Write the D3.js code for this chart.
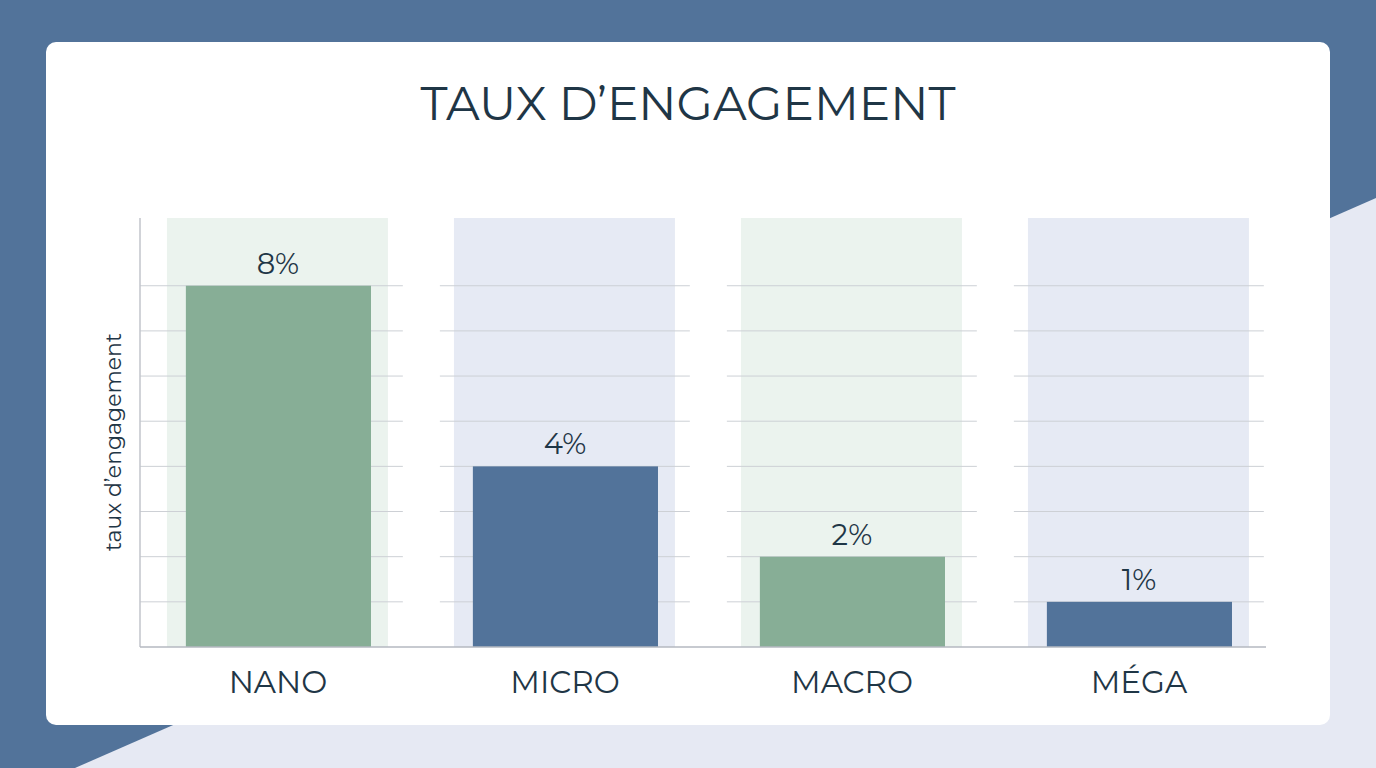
<!DOCTYPE html>
<html><head><meta charset="utf-8">
<script src="https://cdn.jsdelivr.net/npm/d3@7"></script>
<style>body{margin:0;overflow:hidden}</style>
</head><body><svg id="c" width="1376" height="768"></svg>
<script>
const categories = ['NANO', 'MICRO', 'MACRO', 'MÉGA'];
const values = [8, 4, 2, 1];
const valueLabels = ['8%', '4%', '2%', '1%'];
const gridTicks = [1, 2, 3, 4, 5, 6, 7, 8];

const svg = d3.select('#c');
const font = 'Montserrat, "Open Sans", sans-serif';
const ink = '#1f3646';

svg.append('rect').attr('width', 1376).attr('height', 768).attr('fill', '#52739a');
svg.append('polygon').attr('points', '75,768 1376,198 1376,768').attr('fill', '#e6e9f3');
svg.append('rect').attr('x', 46).attr('y', 42).attr('width', 1284).attr('height', 683)
  .attr('rx', 10).attr('fill', '#ffffff');

svg.append('text').attr('x', 688).attr('y', 120).attr('text-anchor', 'middle')
  .attr('font-family', font).attr('font-size', 47).attr('fill', ink)
  .text('TAUX D’ENGAGEMENT');

const x = d3.scaleBand().domain(categories).range([134.5, 1282.5]);
const y = d3.scaleLinear().domain([0, 9.5]).range([647, 218]);
const colors = ['#87ae96', '#52739a', '#87ae96', '#52739a'];
const bands = ['#ebf3ee', '#e6eaf4', '#ebf3ee', '#e6eaf4'];
const cw = x.bandwidth();

const g = svg.append('g');
g.selectAll('rect.band').data(categories).join('rect')
  .attr('x', (d) => x(d) + cw * 0.113)
  .attr('y', y(9.5)).attr('width', cw * 0.77).attr('height', y(0) - y(9.5))
  .attr('fill', (d, i) => bands[i]);

categories.forEach((c, i) => {
  g.selectAll(null).data(gridTicks).join('line')
    .attr('x1', i === 0 ? 140 : x(c) + cw * 0.064)
    .attr('x2', x(c) + cw * 0.935)
    .attr('y1', (d) => y(d)).attr('y2', (d) => y(d))
    .attr('stroke', '#cdd0d5').attr('stroke-width', 1);
});

g.selectAll('rect.bar').data(values).join('rect')
  .attr('x', (d, i) => x(categories[i]) + cw * 0.179)
  .attr('y', (d) => y(d)).attr('width', cw * 0.645)
  .attr('height', (d) => y(0) - y(d))
  .attr('fill', (d, i) => colors[i]);

g.selectAll('text.val').data(values).join('text')
  .attr('x', (d, i) => x(categories[i]) + cw / 2)
  .attr('y', (d) => y(d) - 12).attr('text-anchor', 'middle')
  .attr('font-family', font).attr('font-size', 29).attr('fill', ink)
  .text((d, i) => valueLabels[i]);

g.selectAll('text.cat').data(categories).join('text')
  .attr('x', (d) => x(d) + cw / 2)
  .attr('y', 693).attr('text-anchor', 'middle')
  .attr('font-family', font).attr('font-size', 31).attr('fill', ink)
  .text((d) => d);

g.append('line').attr('x1', 140).attr('x2', 140).attr('y1', 218).attr('y2', 647)
  .attr('stroke', '#c2c5cb').attr('stroke-width', 1.5);
g.append('line').attr('x1', 140).attr('x2', 1266).attr('y1', 647).attr('y2', 647)
  .attr('stroke', '#b5b9c0').attr('stroke-width', 1.5);

svg.append('text').attr('transform', 'translate(121,442) rotate(-90)')
  .attr('text-anchor', 'middle').attr('font-family', font).attr('font-size', 22)
  .attr('fill', ink).text('taux d’engagement');
</script></body></html>
